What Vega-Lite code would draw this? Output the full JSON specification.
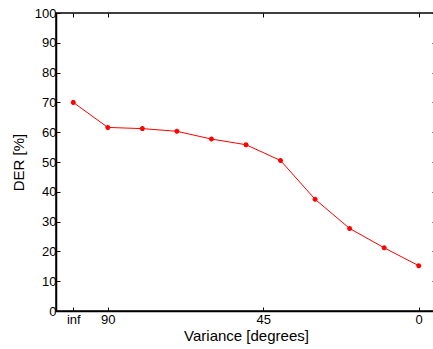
{
  "$schema": "https://vega.github.io/schema/vega-lite/v6.json",
  "width": 380,
  "height": 298,
  "autosize": "none",
  "padding": {"left": 56, "top": 13, "right": 0, "bottom": 38},
  "background": "white",
  "data": {
    "values": [
      {"variance": "inf", "pos": 100, "der": 70.0},
      {"variance": "90", "pos": 90, "der": 61.6},
      {"variance": "80", "pos": 80, "der": 61.2},
      {"variance": "70", "pos": 70, "der": 60.3},
      {"variance": "60", "pos": 60, "der": 57.7},
      {"variance": "50", "pos": 50, "der": 55.8},
      {"variance": "40", "pos": 40, "der": 50.5},
      {"variance": "30", "pos": 30, "der": 37.5},
      {"variance": "20", "pos": 20, "der": 27.7},
      {"variance": "10", "pos": 10, "der": 21.2},
      {"variance": "0", "pos": 0, "der": 15.2}
    ]
  },
  "config": {
    "view": {"stroke": "black", "strokeWidth": 1.5},
    "axis": {
      "domainColor": "black",
      "domainWidth": 1.5,
      "tickColor": "black",
      "labelColor": "black",
      "titleColor": "black",
      "labelFont": "Liberation Sans",
      "titleFont": "Liberation Sans",
      "labelFontSize": 13,
      "titleFontSize": 15,
      "titleFontWeight": "normal",
      "grid": false,
      "tickSize": -4
    }
  },
  "layer": [
    {
      "mark": {"type": "line", "color": "red", "strokeWidth": 1},
      "encoding": {
        "x": {
          "field": "pos", "type": "quantitative",
          "scale": {"domain": [-5, 105], "reverse": true, "nice": false, "zero": false},
          "axis": {
            "values": [100, 90, 45, 0],
            "labelExpr": "datum.value == 100 ? 'inf' : datum.label",
            "title": "Variance [degrees]",
            "labelPadding": 6,
            "titlePadding": 2
          }
        },
        "y": {
          "field": "der", "type": "quantitative",
          "scale": {"domain": [0, 100], "nice": false},
          "axis": {
            "values": [0, 10, 20, 30, 40, 50, 60, 70, 80, 90, 100],
            "title": "DER [%]",
            "labelPadding": 4,
            "titlePadding": 8
          }
        }
      }
    },
    {
      "mark": {
        "type": "point",
        "shape": "M-1,0L1,0M0,-1L0,1M-0.7,-0.7L0.7,0.7M-0.7,0.7L0.7,-0.7",
        "filled": false,
        "color": "red",
        "strokeWidth": 1.5,
        "size": 25,
        "opacity": 1
      },
      "encoding": {
        "x": {
          "field": "pos", "type": "quantitative",
          "scale": {"domain": [-5, 105], "reverse": true, "nice": false, "zero": false},
          "axis": {"orient": "top", "values": [100, 90, 45, 0], "labels": false, "title": null, "domain": false}
        },
        "y": {
          "field": "der", "type": "quantitative",
          "scale": {"domain": [0, 100], "nice": false},
          "axis": {"orient": "right", "values": [0, 10, 20, 30, 40, 50, 60, 70, 80, 90, 100], "labels": false, "title": null, "domain": false}
        }
      }
    }
  ],
  "resolve": {"axis": {"x": "independent", "y": "independent"}}
}
